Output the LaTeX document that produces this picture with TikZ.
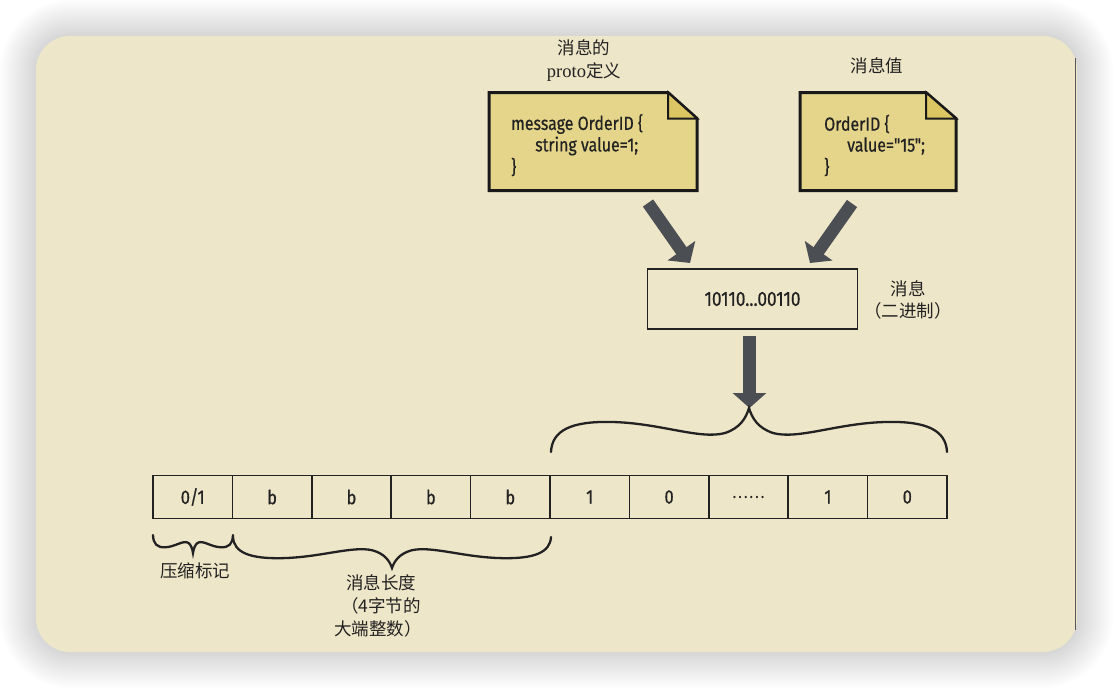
\documentclass[tikz,border=0pt]{standalone}
\usepackage{fontspec}
\setmainfont{Liberation Serif}
\newfontfamily\cjk{Noto Sans CJK SC}
\newfontfamily\codefont[FakeStretch=0.84,FakeBold=0.6]{Fira Sans}
\usetikzlibrary{arrows.meta}
\definecolor{bgpaper}{HTML}{EEE6C8}
\definecolor{notefill}{HTML}{E5D58A}
\definecolor{foldfill}{HTML}{DCC563}
\definecolor{arrowgray}{HTML}{4B4E53}
\definecolor{inkdark}{HTML}{222222}
\newcommand\curlyb[4]{%
\begin{scope}[shift={(#1,#2)}, xscale=#3, yscale=#4]
\draw[bracestyle] (-1,1) .. controls (-0.995,0.5) and (-0.894,0.295) .. (-0.692,0.318)
 .. controls (-0.449,0.341) and (-0.247,0.727) .. (-0.121,0.568)
 .. controls (-0.045,0.455) and (-0.015,0.227) .. (0,0)
 .. controls (0.015,0.227) and (0.045,0.455) .. (0.121,0.568)
 .. controls (0.247,0.727) and (0.449,0.341) .. (0.692,0.318)
 .. controls (0.894,0.295) and (0.995,0.5) .. (1,1);
\end{scope}}
\newcommand\celldots{{\fontsize{15}{18}\selectfont .\kern2.6pt.\kern2.6pt.\kern2.6pt.\kern2.6pt.\kern2.6pt.}}
\begin{document}
\begin{tikzpicture}[x=1pt,y=-1pt,
  bracestyle/.style={draw=inkdark, line width=2.3pt, line cap=round},
  notestyle/.style={draw=black!90, fill=notefill, line width=3pt, line join=miter},
  foldstyle/.style={draw=black!90, fill=foldfill, line width=2pt, line join=miter},
  codetext/.style={inner sep=0pt, anchor=west, text=inkdark, font=\codefont\fontsize{19}{22}\selectfont},
  cjklabel/.style={inner sep=0pt, text=inkdark, font=\cjk\fontsize{17.5}{20}\selectfont},
  msgbox/.style={draw=inkdark, line width=1.8pt, minimum width=210pt, minimum height=60pt, inner sep=0pt, text=inkdark, font=\codefont\fontsize{20.5}{22}\selectfont},
  cellbox/.style={draw=inkdark, line width=1.6pt, minimum width=79.4pt, minimum height=43pt, inner sep=0pt, text=inkdark, font=\codefont\fontsize{19.5}{22}\selectfont},
  bigarrow/.style={draw=arrowgray, line width=12.5pt, -{Triangle[length=15pt,width=33pt]}, fill=arrowgray},
  anchorbox/.style={inner sep=0pt, outer sep=0pt}
]
\useasboundingbox (0,0) rectangle (1114,688);
\fill[white] (0,0) rectangle (1114,688);
% shadow
\foreach \k in {1,...,20}{
  \pgfmathsetmacro\rr{34+1.8*\k}
  \fill[black, opacity=0.007, rounded corners=\rr pt] ({36-1.8*\k},{36-1.8*\k}) rectangle ({1077+1.8*\k},{652+1.8*\k});
}
\fill[bgpaper, rounded corners=34pt] (36,36) rectangle (1077,652);
\draw[black!65, line width=1pt] (1075.5,58) -- (1075.5,630);

% labels above notes
\node[cjklabel] (deflab1) at (584,48) {消息的};
\node[cjklabel] (deflab2) at (584,72) {{\rmfamily\fontsize{18.5}{20}\selectfont proto}定义};
\node[cjklabel] (vallab) at (877,66) {消息值};

% definition note
\node[anchorbox, minimum width=208pt, minimum height=98pt] (defnote) at (593,141.5) {};
\draw[notestyle] (defnote.south west) -- (defnote.north west) -- ([xshift=-29pt]defnote.north east)
  -- ([yshift=-26pt]defnote.north east) -- (defnote.south east) -- cycle;
\draw[foldstyle] ([xshift=-29pt]defnote.north east) -- ([xshift=-29pt,yshift=-26pt]defnote.north east)
  -- ([yshift=-26pt]defnote.north east) -- cycle;
\node[codetext] (defl1) at (511,124) {message OrderID \{};
\node[codetext] (defl2) at (535,146) {string value=1;};
\node[codetext] (defl3) at (511,167) {\}};

% value note
\node[anchorbox, minimum width=156pt, minimum height=98pt] (valnote) at (878,141.5) {};
\draw[notestyle] (valnote.south west) -- (valnote.north west) -- ([xshift=-30pt]valnote.north east)
  -- ([yshift=-26pt]valnote.north east) -- (valnote.south east) -- cycle;
\draw[foldstyle] ([xshift=-30pt]valnote.north east) -- ([xshift=-30pt,yshift=-26pt]valnote.north east)
  -- ([yshift=-26pt]valnote.north east) -- cycle;
\node[codetext] (vall1) at (824,124) {OrderID \{};
\node[codetext] (vall2) at (847,146) {value="15";};
\node[codetext] (vall3) at (824,167) {\}};

% message box
\node[msgbox] (msg) at (752.5,299) {10110...00110};
\node[cjklabel] (msglab1) at (908,289) {消息};
\node[cjklabel] (msglab2) at (908,311) {（二进制）};

% arrows
\coordinate (a1s) at (648,203);
\coordinate (a1e) at (690,263);
\coordinate (a2s) at (852,203.5);
\coordinate (a2e) at (810,263);
\coordinate (a3s) at (749.5,336);
\coordinate (bracetip) at (749.5,408);
\draw[bigarrow] (a1s) -- (a1e);
\draw[bigarrow] (a2s) -- (a2e);
\draw[bigarrow] (a3s) -- (bracetip);

% top brace
\curlyb{749}{408}{198}{44}

% cells
\foreach \i/\t in {1/{0/1},2/b,3/b,4/b,5/b,6/1,7/0,8/{\celldots},9/1,10/0}{
  \node[cellbox] (c\i) at ({153+79.4*(\i-0.5)},497) {\t};
}

% bottom braces
\curlyb{193}{553}{40}{-18}
\curlyb{392}{568}{159}{-31}

\node[cjklabel] (flaglab) at (195,571) {压缩标记};
\node[cjklabel] (lenlab1) at (381,583) {消息长度};
\node[cjklabel] (lenlab2) at (381,606) {（4字节的};
\node[cjklabel] (lenlab3) at (378,629) {大端整数）};
\end{tikzpicture}
\end{document}
